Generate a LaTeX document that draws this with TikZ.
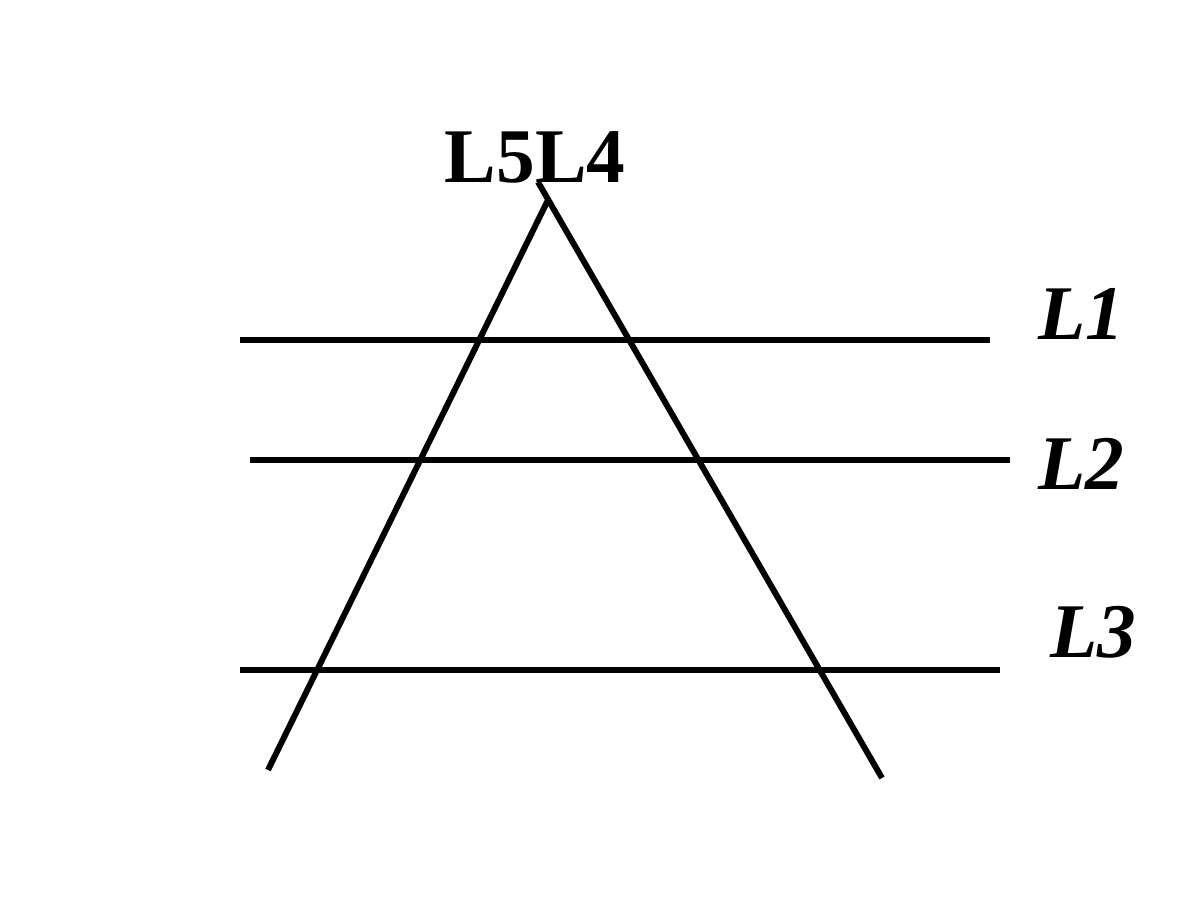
\documentclass[tikz,border=0pt]{standalone}
\usepackage{fontspec}
\setmainfont{Liberation Serif}
\usepackage{tikz}
\usetikzlibrary{calc}

\tikzset{
    lineseg/.style={line width=1.7pt, black},
    linelabel/.style={font=\fontsize{22}{26}\selectfont\bfseries\itshape, anchor=base west, inner sep=0pt},
    toplabel/.style={font=\fontsize{22}{26}\selectfont\bfseries, anchor=base, inner sep=0pt}
}

\begin{document}
\begin{tikzpicture}[scale=1]
        % Fix the canvas
        \useasboundingbox (0,0) rectangle (12,9);

        % End points of the horizontal lines
        \coordinate (l1a) at (2.40,5.60);
        \coordinate (l1b) at (9.90,5.60);
        \coordinate (l2a) at (2.50,4.40);
        \coordinate (l2b) at (10.10,4.40);
        \coordinate (l3a) at (2.40,2.30);
        \coordinate (l3b) at (10.00,2.30);

        % End points of the slanted lines
        \coordinate (l5top) at (5.48,7.00);
        \coordinate (l5bot) at (2.68,1.30);
        \coordinate (l4top) at (5.38,7.18);
        \coordinate (l4bot) at (8.82,1.22);

        % Draw the horizontal lines
        \draw[lineseg] (l1a) -- (l1b);
        \draw[lineseg] (l2a) -- (l2b);
        \draw[lineseg] (l3a) -- (l3b);

        % Draw the slanted lines
        \draw[lineseg] (l5top) -- (l5bot);
        \draw[lineseg] (l4top) -- (l4bot);

        % Labels
        \node[toplabel] (lab54) at (5.35,7.17) {L5L4};
        \node[linelabel] (lab1) at (10.38,5.60) {L1};
        \node[linelabel] (lab2) at (10.38,4.10) {L2};
        \node[linelabel] (lab3) at (10.50,2.42) {L3};
    \end{tikzpicture}
\end{document}
